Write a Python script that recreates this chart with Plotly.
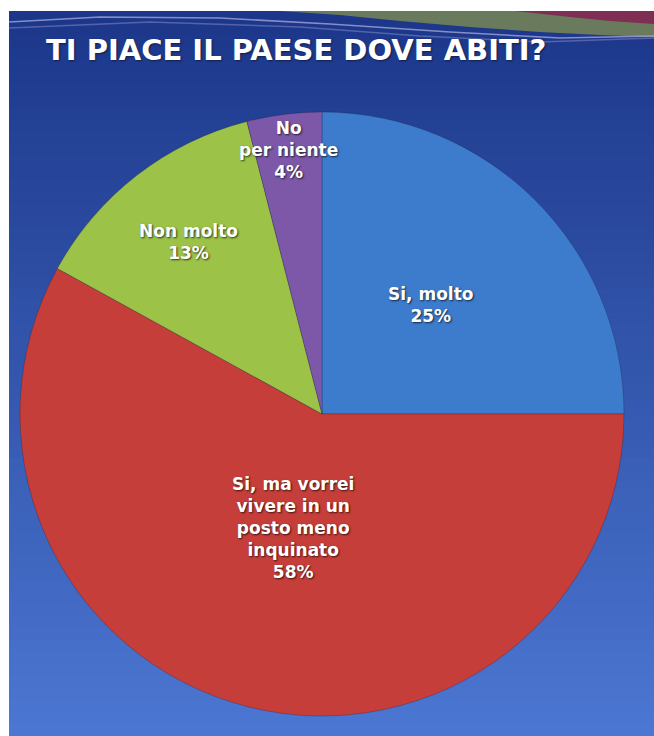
import math
import plotly.graph_objects as go

# Survey answers, clockwise from 12 o'clock
labels = ["Si, molto", "Si, ma vorrei<br>vivere in un<br>posto meno<br>inquinato", "Non molto", "No<br>per niente"]
values = [25, 58, 13, 4]
colors = ["#3D7CCD", "#C63E3A", "#9CC347", "#7D58A8"]
# how far from the centre each label sits, as a fraction of the radius
label_radius = [0.51, 0.39, 0.72, 0.88]

W, H = 654, 736
CX, CY, R = 322, 414, 302          # pie centre and radius in pixels
BORDER_LEFT, BORDER_TOP = 9, 11     # white slide margin


def px(x):
    return x / W


def py(y):
    return 1 - y / H


fig = go.Figure()

fig.add_trace(go.Pie(
    labels=labels,
    values=values,
    sort=False,
    direction="clockwise",
    rotation=0,
    marker=dict(colors=colors, line=dict(color="rgba(30,20,40,0.25)", width=1)),
    textinfo="none",
    hoverinfo="label+percent",
    showlegend=False,
    domain=dict(x=[px(CX - R), px(CX + R)], y=[py(CY + R), py(CY - R)]),
))

# slide background: vertical gradient from navy to a lighter blue
shapes = []
n_bands = 60
top_rgb = (0x1C, 0x37, 0x8A)
bot_rgb = (0x4B, 0x76, 0xD1)
edges = [round(BORDER_TOP + (H - BORDER_TOP) * i / n_bands) for i in range(n_bands + 1)]
for i in range(n_bands):
    t = i / (n_bands - 1)
    c = tuple(round(a + (b - a) * t) for a, b in zip(top_rgb, bot_rgb))
    y0 = edges[i]
    y1 = min(edges[i + 1] + 3, H) if i < n_bands - 1 else H
    shapes.append(dict(
        type="rect", xref="paper", yref="paper", layer="below",
        x0=px(BORDER_LEFT), x1=1.0, y0=py(y1), y1=py(y0),
        fillcolor="rgb(%d,%d,%d)" % c, line=dict(width=0),
    ))


def path(points, close=True):
    d = "M " + " L ".join("%.4f,%.4f" % (px(x), py(y)) for x, y in points)
    return d + (" Z" if close else "")


# decorative ribbons along the top edge
green_ribbon = [(280, 11), (654, 11), (654, 37), (600, 35), (540, 32), (470, 27), (400, 21), (340, 15)]
red_ribbon = [(515, 11), (654, 11), (654, 24), (610, 21), (570, 17)]
shapes.append(dict(type="path", xref="paper", yref="paper", layer="below",
                   path=path(green_ribbon), fillcolor="rgba(108,125,92,0.97)", line=dict(width=0)))
shapes.append(dict(type="path", xref="paper", yref="paper", layer="below",
                   path=path(red_ribbon), fillcolor="rgba(128,40,82,0.92)", line=dict(width=0)))
shine_1 = [(9, 22), (100, 17), (220, 18), (330, 24), (450, 32), (560, 38), (654, 36)]
shine_2 = [(9, 28), (150, 22), (300, 27), (420, 36), (540, 42), (654, 38)]
for pts, col in [(shine_1, "rgba(170,170,220,0.75)"), (shine_2, "rgba(150,150,210,0.45)")]:
    shapes.append(dict(type="path", xref="paper", yref="paper", layer="below",
                       path=path(pts, close=False), line=dict(color=col, width=1.5)))

# slice labels, placed along each slice's mid-angle
label_font = dict(family="DejaVu Sans", size=17, color="white",
                  shadow="1px 1px 2px rgba(0,0,0,0.7)")
annotations = []
total = sum(values)
cum = 0
for lab, v, rf in zip(labels, values, label_radius):
    mid = (cum + v / 2) / total * 2 * math.pi
    cum += v
    x = CX + rf * R * math.sin(mid)
    y = CY - rf * R * math.cos(mid)
    annotations.append(dict(
        x=px(x), y=py(y), xref="paper", yref="paper",
        text="<b>%s<br>%d%%</b>" % (lab, round(100 * v / total)),
        showarrow=False, font=label_font, align="center",
        xanchor="center", yanchor="middle",
    ))

annotations.append(dict(
    x=px(44), y=py(50), xref="paper", yref="paper",
    text="<b>TI PIACE IL PAESE DOVE ABITI?</b>", showarrow=False,
    xanchor="left", yanchor="middle",
    font=dict(family="DejaVu Sans", size=29, color="white",
              shadow="1px 1px 2px rgba(0,0,0,0.5)"),
))

fig.update_layout(
    width=W, height=H,
    margin=dict(l=0, r=0, t=0, b=0),
    paper_bgcolor="white",
    plot_bgcolor="white",
    shapes=shapes,
    annotations=annotations,
    showlegend=False,
)

fig.write_html("out.html")
